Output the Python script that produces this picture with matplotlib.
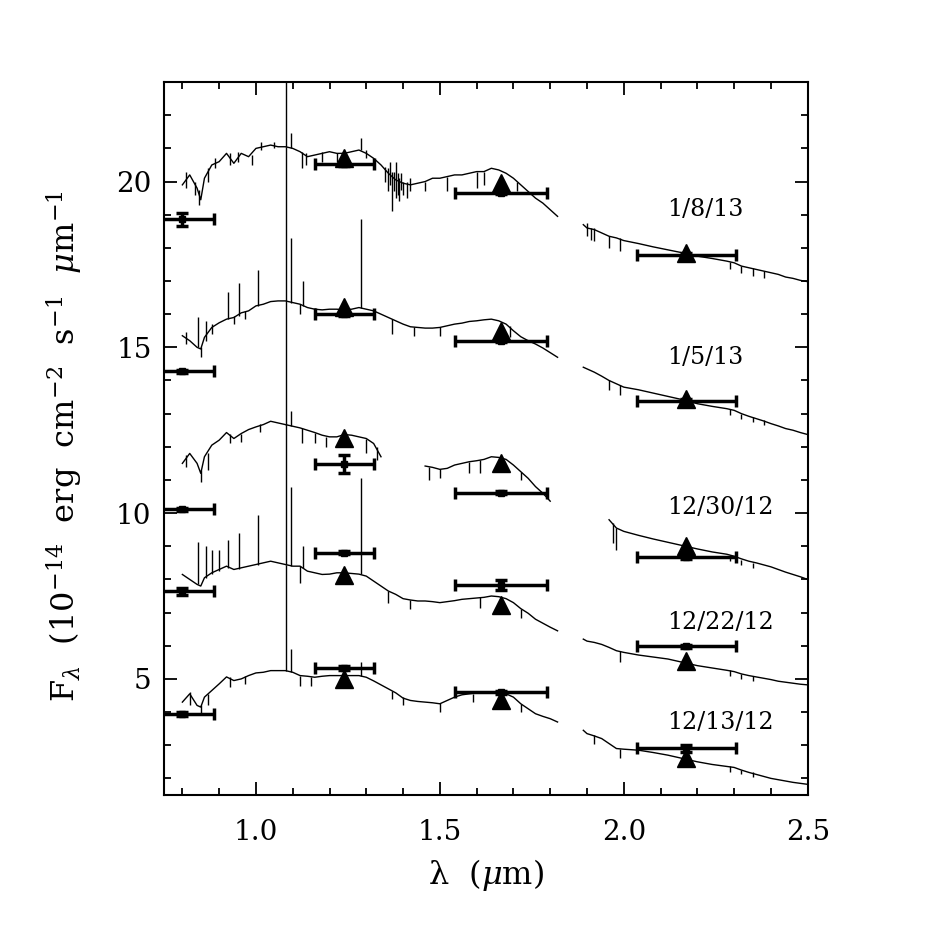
import numpy as np
import matplotlib
matplotlib.use("Agg")
import matplotlib.pyplot as plt
from matplotlib.ticker import MultipleLocator

plt.rcParams['font.family'] = ['DejaVu Serif']
plt.rcParams['mathtext.fontset'] = 'dejavuserif'

nan = np.nan

# epochs, top to bottom
epochs = ['1/8/13', '1/5/13', '12/30/12', '12/22/12', '12/13/12']

# photometric bands (I, J, H, K): centre and half width in um
band_wl = [0.80, 1.24, 1.665, 2.17]
band_hw = [0.085, 0.08, 0.125, 0.135]

# broadband photometry (squares) and its errors, per epoch
phot_0108 = [18.86, 20.53, 19.66, 17.79]
phot_0105 = [14.28, 16.00, 15.20, 13.39]
phot_1230 = [10.11, 11.49, 10.62, 8.68]
phot_1222 = [7.64, 8.81, 7.83, 5.98]
phot_1213 = [3.94, 5.33, 4.60, 2.91]
perr_0108 = [0.20, 0.05, 0.05, 0.05]
perr_0105 = [0.05, 0.05, 0.05, 0.05]
perr_1230 = [0.05, 0.27, 0.05, 0.05]
perr_1222 = [0.10, 0.05, 0.15, 0.05]
perr_1213 = [0.05, 0.05, 0.05, 0.10]

# synthetic J, H, K photometry from the spectra (triangles)
synth_0108 = [20.72, 19.95, 17.86]
synth_0105 = [16.21, 15.50, 13.45]
synth_1230 = [12.27, 11.51, 9.00]
synth_1222 = [8.14, 7.23, 5.53]
synth_1213 = [5.00, 4.37, 2.60]

# spectra, 0.8-1.82 um part
wl_a = [0.80, 0.82, 0.84, 0.85, 0.86, 0.88, 0.90, 0.92, 0.94, 0.96, 0.98,
        1.00, 1.02, 1.04, 1.06, 1.08, 1.10, 1.12, 1.14, 1.16, 1.18, 1.20,
        1.22, 1.24, 1.26, 1.28, 1.30, 1.32, 1.34, 1.36, 1.38, 1.40, 1.42,
        1.44, 1.46, 1.48, 1.50, 1.52, 1.54, 1.56, 1.58, 1.60, 1.62, 1.64,
        1.66, 1.68, 1.70, 1.72, 1.74, 1.76, 1.78, 1.80, 1.82]
spec_a_0108 = [19.9, 20.2, 19.8, 19.45, 20.1, 20.5, 20.6, 20.85, 20.55, 20.85, 20.75,
               21.0, 21.05, 21.1, 21.05, 21.05, 21.0, 20.9, 20.75, 20.8, 20.85, 20.9,
               20.85, 20.85, 20.9, 20.95, 20.85, 20.7, 20.5, 20.25, 20.05, 19.95, 19.9,
               19.95, 20.0, 20.1, 20.1, 20.15, 20.2, 20.2, 20.25, 20.3, 20.3, 20.4,
               20.35, 20.25, 20.1, 19.9, 19.7, 19.5, 19.35, 19.15, 18.95]
spec_a_0105 = [15.35, 15.2, 15.0, 14.95, 15.3, 15.6, 15.74, 15.85, 15.9, 16.04, 16.1,
               16.25, 16.3, 16.38, 16.4, 16.4, 16.35, 16.3, 16.2, 16.15, 16.13, 16.15,
               16.15, 16.13, 16.15, 16.2, 16.15, 16.1, 16.0, 15.9, 15.8, 15.7, 15.62,
               15.6, 15.58, 15.58, 15.6, 15.65, 15.7, 15.73, 15.78, 15.8, 15.83, 15.85,
               15.8, 15.7, 15.5, 15.32, 15.2, 15.1, 14.98, 14.84, 14.7]
spec_a_1230 = [11.5, 11.8, 11.5, 11.2, 11.7, 12.05, 12.2, 12.43, 12.25, 12.4, 12.52,
               12.6, 12.67, 12.77, 12.72, 12.67, 12.62, 12.57, 12.5, 12.43, 12.35, 12.3,
               12.3, 12.37, 12.35, 12.3, 12.25, 12.1, 11.7, nan, nan, nan, nan,
               nan, 11.42, 11.38, 11.32, 11.35, 11.45, 11.5, 11.55, 11.58, 11.62, 11.7,
               11.68, 11.62, 11.45, 11.25, 11.05, 10.8, 10.6, 10.36, nan]
spec_a_1222 = [8.15, 8.0, 7.85, 7.8, 8.05, 8.2, 8.3, 8.4, 8.3, 8.35, 8.4,
               8.45, 8.5, 8.55, 8.5, 8.45, 8.4, 8.4, 8.25, 8.2, 8.15, 8.16,
               8.2, 8.2, 8.18, 8.16, 8.1, 7.95, 7.8, 7.65, 7.55, 7.42, 7.38,
               7.35, 7.35, 7.33, 7.3, 7.33, 7.36, 7.4, 7.42, 7.44, 7.46, 7.5,
               7.48, 7.42, 7.3, 7.12, 6.98, 6.8, 6.68, 6.56, 6.45]
spec_a_1213 = [4.3, 4.55, 4.2, 4.15, 4.45, 4.65, 4.85, 5.06, 4.95, 5.0, 5.1,
               5.18, 5.2, 5.25, 5.25, 5.25, 5.2, 5.1, 5.08, 5.05, 5.08, 5.1,
               5.1, 5.1, 5.1, 5.1, 5.05, 4.94, 4.82, 4.7, 4.58, 4.42, 4.35,
               4.32, 4.3, 4.28, 4.25, 4.35, 4.45, 4.52, 4.55, 4.58, 4.6, 4.6,
               4.6, 4.55, 4.45, 4.25, 4.1, 3.95, 3.87, 3.8, 3.7]

# spectra, K band part
wl_k = [1.89, 1.90, 1.92, 1.94, 1.96, 1.98, 2.00, 2.04, 2.08, 2.12, 2.16, 2.20,
        2.24, 2.28, 2.30, 2.32, 2.34, 2.36, 2.38, 2.40, 2.42, 2.44, 2.46, 2.48, 2.50]
spec_k_0108 = [18.7, 18.6, 18.55, 18.45, 18.35, 18.3, 18.22, 18.13, 18.03, 17.94, 17.85, 17.75,
               17.68, 17.6, 17.55, 17.45, 17.4, 17.35, 17.3, 17.25, 17.2, 17.12, 17.08, 17.02, 16.98]
spec_k_0105 = [14.4, 14.35, 14.25, 14.13, 14.0, 13.9, 13.8, 13.72, 13.62, 13.52, 13.42, 13.3,
               13.22, 13.15, 13.1, 13.0, 12.92, 12.85, 12.78, 12.7, 12.63, 12.55, 12.5, 12.43, 12.37]
spec_k_1230 = [nan, nan, nan, nan, 9.8, 9.55, 9.45, 9.33, 9.22, 9.12, 9.02, 8.92,
               8.83, 8.76, 8.7, 8.62, 8.55, 8.5, 8.44, 8.38, 8.3, 8.22, 8.15, 8.08, 8.0]
spec_k_1222 = [6.2, 6.14, 6.1, 6.04, 5.95, 5.85, 5.8, 5.72, 5.66, 5.6, 5.5, 5.4,
               5.33, 5.26, 5.22, 5.15, 5.1, 5.06, 5.02, 4.98, 4.93, 4.9, 4.87, 4.84, 4.82]
spec_k_1213 = [3.45, 3.35, 3.28, 3.2, 3.05, 2.9, 2.88, 2.85, 2.78, 2.7, 2.6, 2.5,
               2.42, 2.36, 2.33, 2.25, 2.18, 2.12, 2.06, 2.0, 1.96, 1.92, 1.88, 1.85, 1.82]

# narrow emission lines and absorption dips: [wavelength, low, high]
feat_0108 = [[1.083, 21.05, 23.5], [1.094, 21.0, 21.45], [1.285, 20.95, 21.3],
             [0.81, 19.8, 20.3], [0.835, 19.6, 20.0], [0.845, 19.3, 19.75],
             [0.87, 20.0, 20.4], [0.89, 20.4, 20.7], [0.93, 20.5, 20.85],
             [0.95, 20.6, 20.9], [0.99, 20.5, 20.8], [1.015, 20.95, 21.2],
             [1.05, 21.0, 21.2], [1.125, 20.4, 20.9], [1.135, 20.5, 20.85],
             [1.18, 20.6, 20.9], [1.22, 20.6, 20.85], [1.30, 20.7, 20.95],
             [1.35, 20.0, 20.45], [1.36, 19.7, 20.4], [1.365, 19.9, 20.6],
             [1.37, 19.1, 20.3], [1.375, 19.7, 20.3], [1.38, 19.5, 20.6],
             [1.385, 19.6, 20.25], [1.39, 19.4, 20.1], [1.395, 19.75, 20.25],
             [1.40, 19.6, 20.0], [1.41, 19.5, 20.0], [1.42, 19.7, 20.1],
             [1.46, 19.7, 20.0], [1.52, 19.7, 20.15], [1.60, 19.8, 20.3],
             [1.62, 19.9, 20.3], [1.71, 19.7, 20.0], [1.90, 18.35, 18.75],
             [1.91, 18.25, 18.6], [1.92, 18.2, 18.6], [1.96, 18.0, 18.35],
             [1.99, 17.9, 18.3], [2.29, 17.35, 17.58], [2.32, 17.25, 17.45],
             [2.35, 17.15, 17.38], [2.38, 17.1, 17.3]]
feat_0105 = [[0.843, 15.0, 15.9], [0.865, 15.2, 15.8], [0.923, 15.85, 16.67],
             [0.953, 15.95, 16.95], [1.005, 16.25, 17.34], [1.083, 16.4, 21.05],
             [1.094, 16.35, 18.3], [1.129, 16.25, 17.0], [1.285, 16.2, 18.87],
             [0.81, 15.1, 15.45], [0.85, 14.7, 15.0], [0.88, 15.4, 15.7],
             [0.94, 15.7, 15.95], [0.97, 15.85, 16.1], [1.12, 16.0, 16.3],
             [1.16, 15.95, 16.2], [1.37, 15.4, 15.85], [1.43, 15.35, 15.62],
             [1.50, 15.35, 15.6], [1.69, 15.3, 15.65], [1.96, 13.7, 14.0],
             [1.99, 13.55, 13.85], [2.29, 12.95, 13.15], [2.32, 12.85, 13.0],
             [2.35, 12.75, 12.9], [2.38, 12.65, 12.8]]
feat_1230 = [[1.083, 12.67, 16.4], [1.094, 12.62, 13.07], [0.85, 10.95, 11.3],
             [0.81, 11.4, 11.75], [0.87, 11.3, 11.8], [0.93, 12.1, 12.4],
             [0.96, 12.15, 12.4], [1.01, 12.45, 12.7], [1.125, 12.1, 12.57],
             [1.16, 12.1, 12.43], [1.19, 12.0, 12.3], [1.30, 11.8, 12.25],
             [1.33, 11.6, 12.0], [1.47, 11.0, 11.4], [1.50, 11.05, 11.32],
             [1.58, 11.2, 11.55], [1.61, 11.2, 11.6], [1.72, 11.0, 11.25],
             [1.97, 9.1, 9.7], [1.98, 8.9, 9.55], [2.29, 8.55, 8.74],
             [2.32, 8.45, 8.6], [2.35, 8.35, 8.5]]
feat_1222 = [[0.843, 7.85, 9.12], [0.865, 8.05, 9.0], [0.88, 8.15, 8.9],
             [0.90, 8.25, 8.9], [0.923, 8.35, 9.2], [0.953, 8.3, 9.4],
             [1.005, 8.45, 9.93], [1.083, 8.45, 12.7], [1.094, 8.4, 10.8],
             [1.129, 8.35, 9.0], [1.285, 8.15, 11.05], [1.12, 7.9, 8.4],
             [1.36, 7.3, 7.65], [1.42, 7.1, 7.38], [1.61, 7.15, 7.46],
             [1.72, 6.85, 7.12], [1.99, 5.5, 5.85], [2.29, 5.1, 5.26],
             [2.32, 5.0, 5.15], [2.35, 4.95, 5.08]]
feat_1213 = [[1.083, 5.25, 8.45], [1.094, 5.2, 5.9], [1.285, 5.1, 5.5],
             [0.82, 4.2, 4.6], [0.85, 3.9, 4.2], [0.87, 4.2, 4.55],
             [0.93, 4.75, 5.05], [0.97, 4.85, 5.1], [1.12, 4.8, 5.1],
             [1.15, 4.8, 5.05], [1.37, 4.4, 4.65], [1.40, 4.2, 4.45],
             [1.50, 4.0, 4.28], [1.59, 4.3, 4.55], [1.72, 4.0, 4.25],
             [1.92, 3.05, 3.3], [1.99, 2.6, 2.9], [2.29, 2.2, 2.36],
             [2.32, 2.12, 2.25], [2.35, 2.05, 2.18]]

spec_a = [spec_a_0108, spec_a_0105, spec_a_1230, spec_a_1222, spec_a_1213]
spec_k = [spec_k_0108, spec_k_0105, spec_k_1230, spec_k_1222, spec_k_1213]
feats = [feat_0108, feat_0105, feat_1230, feat_1222, feat_1213]
phots = [phot_0108, phot_0105, phot_1230, phot_1222, phot_1213]
perrs = [perr_0108, perr_0105, perr_1230, perr_1222, perr_1213]
synths = [synth_0108, synth_0105, synth_1230, synth_1222, synth_1213]

# date label placement (left edge)
label_x = 2.118
label_y = [19.17, 14.70, 10.18, 6.70, 3.70]

fig = plt.figure(figsize=(9.37, 9.38), dpi=100)
ax = fig.add_axes([0.175, 0.1525, 0.687, 0.760])

for i in range(len(epochs)):
    ax.plot(wl_a, spec_a[i], color='k', lw=1.0, zorder=2)
    ax.plot(wl_k, spec_k[i], color='k', lw=1.0, zorder=2)
    f = np.array(feats[i])
    ax.vlines(f[:, 0], f[:, 1], f[:, 2], color='k', lw=1.0, zorder=2)

    ax.errorbar(band_wl, phots[i], xerr=band_hw, yerr=perrs[i], fmt='s', ms=5,
                color='k', elinewidth=2.5, capsize=4, capthick=2.5, zorder=3)
    ax.plot(band_wl[1:], synths[i], '^', ms=13, color='k', zorder=4)

    ax.text(label_x, label_y[i], epochs[i], ha='left', va='center', fontsize=17)

ax.set_xlim(0.75, 2.5)
ax.set_ylim(1.5, 23)
ax.xaxis.set_major_locator(MultipleLocator(0.5))
ax.xaxis.set_minor_locator(MultipleLocator(0.1))
ax.yaxis.set_major_locator(MultipleLocator(5))
ax.yaxis.set_minor_locator(MultipleLocator(1))
ax.tick_params(which='both', direction='in', top=True, right=True, width=1.3)
ax.tick_params(which='major', length=9.5, labelsize=20)
ax.tick_params(axis='x', which='major', pad=17)
ax.tick_params(axis='y', which='major', pad=9)
ax.tick_params(which='minor', length=4.7)
for s in ax.spines.values():
    s.set_linewidth(1.5)

ax.set_xlabel(r'λ  ($\mu$m)', fontsize=23, labelpad=8)
ax.set_ylabel(r'F$_\lambda$  (10$^{-14}$  erg  cm$^{-2}$  s$^{-1}$  $\mu$m$^{-1}$',
              fontsize=23, labelpad=14)
ax.yaxis.set_label_coords(-0.122, 0.49)

fig.savefig('out.png', dpi=100)
